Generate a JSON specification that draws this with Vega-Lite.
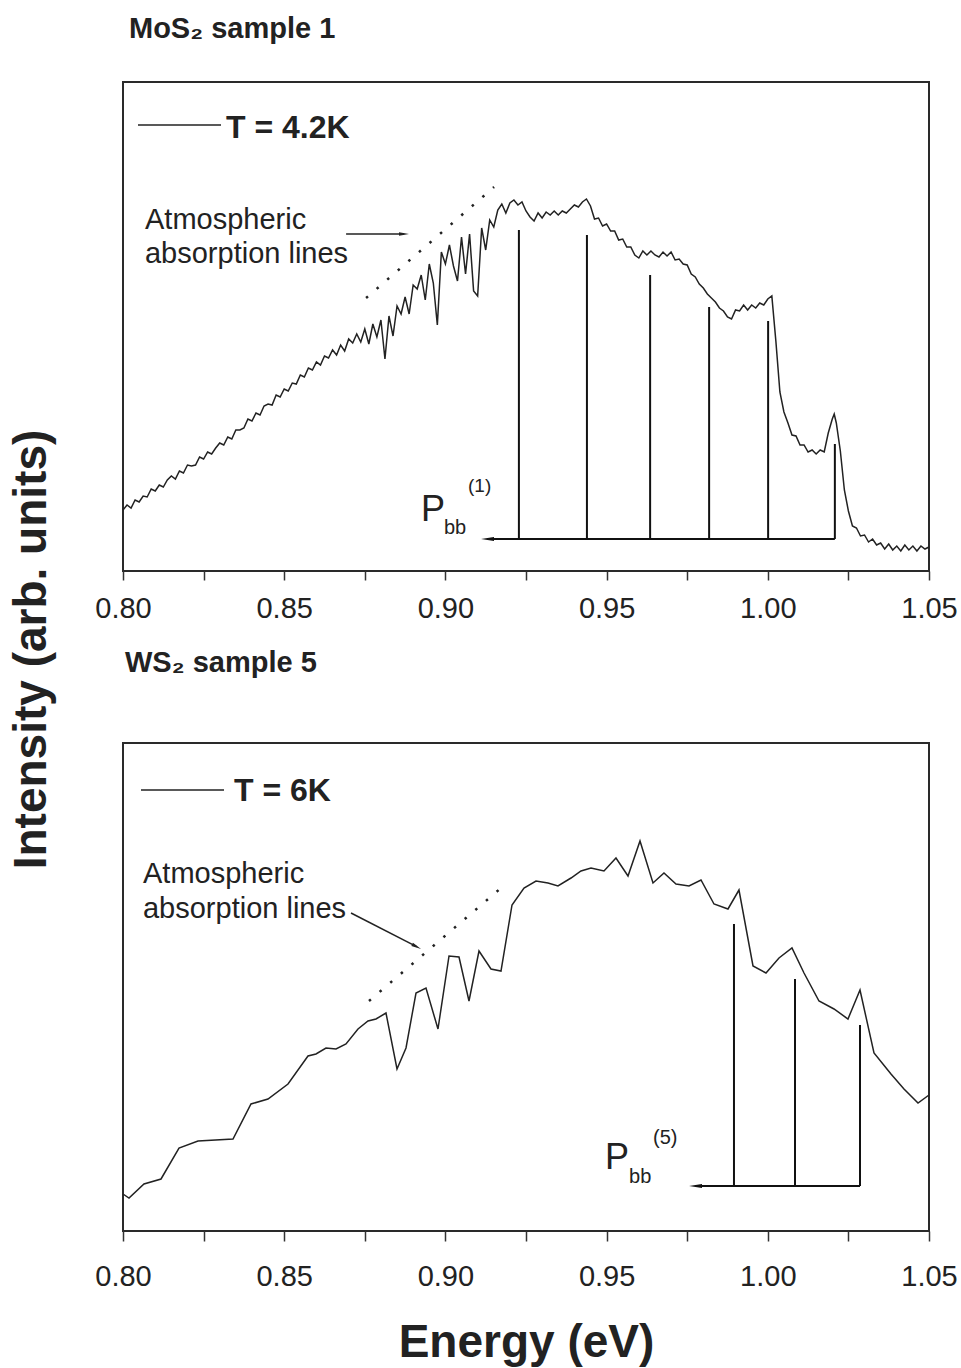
{
  "$schema": "https://vega.github.io/schema/vega-lite/v6.json",
  "background": "white",
  "padding": {"left": 7, "top": 14, "right": 5, "bottom": 5},
  "bounds": "flush",
  "spacing": 172,
  "config": {
    "view": {"stroke": "#2a2a2a", "strokeWidth": 2},
    "font": "Liberation Sans",
    "axis": {"grid": false, "domain": false},
    "title": {"font": "Liberation Sans", "fontWeight": "bold", "fontSize": 29, "anchor": "start", "frame": "group", "color": "#222"}
  },
  "datasets": {
    "mos2": [
      {"e":0.8,"i":61},{"e":0.80125,"i":66},{"e":0.8025,"i":63},{"e":0.80375,"i":71},{"e":0.805,"i":69},{"e":0.80625,"i":75},{"e":0.8075,"i":74},{"e":0.80875,"i":82},{"e":0.81,"i":80},{"e":0.81125,"i":86},
      {"e":0.8125,"i":84},{"e":0.81375,"i":91},{"e":0.815,"i":95},{"e":0.81625,"i":92},{"e":0.8175,"i":100},{"e":0.81875,"i":98},{"e":0.82,"i":106},{"e":0.82125,"i":105},{"e":0.8225,"i":106},{"e":0.82375,"i":114},
      {"e":0.825,"i":112},{"e":0.82625,"i":119},{"e":0.8275,"i":117},{"e":0.82875,"i":123},{"e":0.83,"i":128},{"e":0.83125,"i":126},{"e":0.8325,"i":134},{"e":0.83375,"i":132},{"e":0.835,"i":141},{"e":0.83625,"i":141},
      {"e":0.8375,"i":143},{"e":0.83875,"i":152},{"e":0.84,"i":150},{"e":0.84125,"i":158},{"e":0.8425,"i":156},{"e":0.84375,"i":165},{"e":0.845,"i":167},{"e":0.84625,"i":166},{"e":0.8475,"i":176},{"e":0.84875,"i":174},
      {"e":0.85,"i":182},{"e":0.85125,"i":180},{"e":0.8525,"i":188},{"e":0.85375,"i":187},{"e":0.855,"i":196},{"e":0.85625,"i":194},{"e":0.8575,"i":203},{"e":0.85875,"i":201},{"e":0.86,"i":209},{"e":0.86125,"i":206},
      {"e":0.8625,"i":215},{"e":0.86375,"i":213},{"e":0.865,"i":221},{"e":0.86625,"i":216},{"e":0.8675,"i":226},{"e":0.86875,"i":220},{"e":0.87,"i":232},{"e":0.87125,"i":228},{"e":0.8725,"i":237},{"e":0.87375,"i":229},
      {"e":0.875,"i":242},{"e":0.87625,"i":227},{"e":0.8775,"i":247},{"e":0.87875,"i":234},{"e":0.88,"i":251},{"e":0.88125,"i":212},{"e":0.8825,"i":255},{"e":0.88375,"i":235},{"e":0.885,"i":265},{"e":0.88625,"i":257},
      {"e":0.8875,"i":274},{"e":0.88875,"i":257},{"e":0.89,"i":286},{"e":0.89125,"i":282},{"e":0.8925,"i":296},{"e":0.89375,"i":271},{"e":0.895,"i":307},{"e":0.89625,"i":288},{"e":0.8975,"i":246},{"e":0.89875,"i":319},
      {"e":0.9,"i":307},{"e":0.90125,"i":326},{"e":0.9025,"i":305},{"e":0.90375,"i":290},{"e":0.905,"i":334},{"e":0.90625,"i":297},{"e":0.9075,"i":337},{"e":0.90875,"i":280},{"e":0.91,"i":275},{"e":0.91125,"i":343},
      {"e":0.9125,"i":321},{"e":0.91375,"i":351},{"e":0.915,"i":344},{"e":0.91625,"i":361},{"e":0.9175,"i":367},{"e":0.91875,"i":358},{"e":0.92,"i":368},{"e":0.92125,"i":371},{"e":0.9225,"i":366},{"e":0.92375,"i":369},
      {"e":0.925,"i":360},{"e":0.92625,"i":354},{"e":0.9275,"i":350},{"e":0.92875,"i":358},{"e":0.93,"i":353},{"e":0.93125,"i":359},{"e":0.9325,"i":356},{"e":0.93375,"i":360},{"e":0.935,"i":356},{"e":0.93625,"i":360},
      {"e":0.9375,"i":358},{"e":0.93875,"i":362},{"e":0.94,"i":366},{"e":0.94125,"i":364},{"e":0.9425,"i":369},{"e":0.94375,"i":372},{"e":0.945,"i":365},{"e":0.94625,"i":352},{"e":0.9475,"i":353},{"e":0.94875,"i":345},
      {"e":0.95,"i":347},{"e":0.95125,"i":340},{"e":0.9525,"i":340},{"e":0.95375,"i":331},{"e":0.955,"i":332},{"e":0.95625,"i":324},{"e":0.9575,"i":324},{"e":0.95875,"i":316},{"e":0.96,"i":313},{"e":0.96125,"i":320},
      {"e":0.9625,"i":316},{"e":0.96375,"i":320},{"e":0.965,"i":316},{"e":0.96625,"i":314},{"e":0.9675,"i":319},{"e":0.96875,"i":315},{"e":0.97,"i":319},{"e":0.97125,"i":311},{"e":0.9725,"i":312},{"e":0.97375,"i":307},
      {"e":0.975,"i":306},{"e":0.97625,"i":297},{"e":0.9775,"i":294},{"e":0.97875,"i":287},{"e":0.98,"i":283},{"e":0.98125,"i":277},{"e":0.9825,"i":273},{"e":0.98375,"i":269},{"e":0.985,"i":263},{"e":0.98625,"i":260},
      {"e":0.9875,"i":254},{"e":0.98875,"i":252},{"e":0.99,"i":261},{"e":0.99125,"i":260},{"e":0.9925,"i":266},{"e":0.99375,"i":261},{"e":0.995,"i":266},{"e":0.99625,"i":263},{"e":0.9975,"i":268},{"e":0.99875,"i":266},
      {"e":1.0,"i":272},{"e":1.00125,"i":275},{"e":1.0025,"i":230},{"e":1.00375,"i":179},{"e":1.005,"i":159},{"e":1.00625,"i":148},{"e":1.0075,"i":136},{"e":1.00875,"i":135},{"e":1.01,"i":126},{"e":1.01125,"i":126},
      {"e":1.0125,"i":119},{"e":1.01375,"i":121},{"e":1.015,"i":117},{"e":1.01625,"i":121},{"e":1.0175,"i":119},{"e":1.01875,"i":138},{"e":1.02,"i":152},{"e":1.0206,"i":157},{"e":1.02125,"i":148},{"e":1.0225,"i":120},
      {"e":1.02375,"i":81},{"e":1.025,"i":60},{"e":1.02625,"i":45},{"e":1.0275,"i":43},{"e":1.02875,"i":35},{"e":1.03,"i":36},{"e":1.03125,"i":29},{"e":1.0325,"i":32},{"e":1.03375,"i":26},{"e":1.035,"i":28},
      {"e":1.03625,"i":22},{"e":1.0375,"i":27},{"e":1.03875,"i":21},{"e":1.04,"i":25},{"e":1.04125,"i":20},{"e":1.0425,"i":26},{"e":1.04375,"i":21},{"e":1.045,"i":25},{"e":1.04625,"i":20},{"e":1.0475,"i":25},
      {"e":1.04875,"i":22},{"e":1.05,"i":24}
    ],
    "ws2": [
      {"e":0.8,"i":37},{"e":0.80186,"i":33},{"e":0.80651,"i":47},{"e":0.81179,"i":52},{"e":0.81737,"i":83},{"e":0.82326,"i":90},{"e":0.83412,"i":92},{"e":0.8397,"i":127},{"e":0.84497,"i":132},{"e":0.85118,"i":147},
      {"e":0.85738,"i":175},{"e":0.85986,"i":177},{"e":0.86296,"i":183},{"e":0.86607,"i":182},{"e":0.86917,"i":187},{"e":0.87289,"i":202},{"e":0.87599,"i":210},{"e":0.87847,"i":212},{"e":0.88157,"i":218},{"e":0.88499,"i":162},
      {"e":0.88778,"i":183},{"e":0.89088,"i":238},{"e":0.89398,"i":243},{"e":0.8977,"i":202},{"e":0.90112,"i":275},{"e":0.90422,"i":274},{"e":0.90732,"i":230},{"e":0.91042,"i":280},{"e":0.91414,"i":262},{"e":0.91724,"i":260},
      {"e":0.92066,"i":326},{"e":0.92438,"i":343},{"e":0.9281,"i":350},{"e":0.93182,"i":348},{"e":0.93492,"i":345},{"e":0.93896,"i":353},{"e":0.94206,"i":360},{"e":0.94516,"i":363},{"e":0.94919,"i":360},{"e":0.95291,"i":373},
      {"e":0.95664,"i":355},{"e":0.96036,"i":390},{"e":0.96439,"i":348},{"e":0.9678,"i":358},{"e":0.97152,"i":347},{"e":0.97556,"i":345},{"e":0.97928,"i":351},{"e":0.98331,"i":327},{"e":0.98765,"i":322},{"e":0.99106,"i":341},
      {"e":0.99541,"i":265},{"e":0.99944,"i":258},{"e":1.00347,"i":273},{"e":1.0075,"i":283},{"e":1.01123,"i":258},{"e":1.01588,"i":230},{"e":1.02053,"i":222},{"e":1.02487,"i":212},{"e":1.0286,"i":241},{"e":1.03294,"i":178},
      {"e":1.03821,"i":157},{"e":1.04224,"i":142},{"e":1.04659,"i":128},{"e":1.05,"i":136}
    ],
    "pbb1": [
      {"e":0.9228,"top":341},{"e":0.9439,"top":336},{"e":0.9635,"top":296},{"e":0.9818,"top":264},{"e":1.0001,"top":250},{"e":1.0208,"top":127}
    ],
    "pbb5": [
      {"e":0.98951,"top":307},{"e":1.00843,"top":252},{"e":1.0286,"top":206}
    ]
  },
  "vconcat": [
    {
      "title": {"text": "MoS₂ sample 1", "offset": 38, "dx": 6},
      "width": 806,
      "height": 489,
      "layer": [
        {
          "data": {"name": "mos2"},
          "mark": {"type": "line", "stroke": "#222", "strokeWidth": 1.5},
          "encoding": {
            "x": {"field": "e", "type": "quantitative", "scale": {"domain": [0.8, 1.05], "nice": false, "zero": false},
              "axis": {"title": null, "values": [0.8,0.825,0.85,0.875,0.9,0.925,0.95,0.975,1.0,1.025,1.05],
                "labelExpr": "abs(datum.value*20 - round(datum.value*20)) < 0.01 ? format(datum.value, '.2f') : ''",
                "labelFont": "Liberation Sans", "labelFontSize": 29, "labelColor": "#222", "labelPadding": 14, "labelFlush": false, "labelOverlap": false,
                "tickSize": 9, "tickWidth": 1.5, "tickColor": "#333"}},
            "y": {"field": "i", "type": "quantitative", "scale": {"domain": [0, 489], "nice": false, "zero": false},
              "axis": {"title": "Intensity (arb. units)", "labels": false, "ticks": false, "titleX": -92, "titleY": 567,
                "titleFontSize": 46, "titleFontWeight": "bold", "titleFont": "Liberation Sans", "titleColor": "#222", "titleAngle": -90, "titleBaseline": "middle", "titleAlign": "center"}}
          }
        },
        {
          "data": {"name": "pbb1"},
          "mark": {"type": "rule", "stroke": "#111", "strokeWidth": 2},
          "encoding": {"x": {"field": "e", "type": "quantitative"}, "y": {"field": "top", "type": "quantitative"}, "y2": {"datum": 32}}
        },
        {
          "data": {"values": [{}]},
          "mark": {"type": "rule", "stroke": "#111", "strokeWidth": 2},
          "encoding": {"x": {"datum": 0.91306}, "x2": {"datum": 1.0208}, "y": {"datum": 32}}
        },
        {
          "data": {"values": [{}]},
          "mark": {"type": "point", "shape": "M-1,0L1,-0.3L1,0.3Z", "filled": true, "size": 169, "color": "#111", "opacity": 1},
          "encoding": {"x": {"datum": 0.91306}, "y": {"datum": 32}}
        },
        {
          "data": {"values": [{}]},
          "mark": {"type": "rule", "stroke": "#222", "strokeWidth": 2.5, "strokeDash": [2.5, 11.5]},
          "encoding": {"x": {"datum": 0.8754}, "y": {"datum": 273}, "x2": {"datum": 0.9151}, "y2": {"datum": 384}}
        },
        {
          "data": {"values": [{}]},
          "mark": {"type": "rule", "stroke": "#222", "strokeWidth": 1.3},
          "encoding": {"x": {"datum": 0.8692}, "x2": {"datum": 0.8872}, "y": {"datum": 337}}
        },
        {
          "data": {"values": [{}]},
          "mark": {"type": "point", "shape": "M1,0L-1,-0.35L-1,0.35Z", "filled": true, "size": 100, "color": "#222", "opacity": 1},
          "encoding": {"x": {"datum": 0.88716}, "y": {"datum": 337}}
        },
        {
          "data": {"values": [{}]},
          "mark": {"type": "text", "text": ["Atmospheric", "absorption lines"], "align": "left", "baseline": "alphabetic", "fontSize": 29, "lineHeight": 34, "font": "Liberation Sans", "color": "#222"},
          "encoding": {"x": {"datum": 0.80682}, "y": {"datum": 342}}
        },
        {
          "data": {"values": [{}]},
          "mark": {"type": "rule", "stroke": "#222", "strokeWidth": 1.3},
          "encoding": {"x": {"datum": 0.80465}, "x2": {"datum": 0.8304}, "y": {"datum": 446}}
        },
        {
          "data": {"values": [{}]},
          "mark": {"type": "text", "text": "T = 4.2K", "align": "left", "baseline": "alphabetic", "fontSize": 32, "fontWeight": "bold", "font": "Liberation Sans", "color": "#222"},
          "encoding": {"x": {"datum": 0.83195}, "y": {"datum": 433}}
        },
        {
          "data": {"values": [{}]},
          "mark": {"type": "text", "text": "P", "align": "left", "baseline": "alphabetic", "fontSize": 36, "font": "Liberation Sans", "color": "#222"},
          "encoding": {"x": {"datum": 0.89243}, "y": {"datum": 50}}
        },
        {
          "data": {"values": [{}]},
          "mark": {"type": "text", "text": "bb", "align": "left", "baseline": "alphabetic", "fontSize": 20, "font": "Liberation Sans", "color": "#222"},
          "encoding": {"x": {"datum": 0.89956}, "y": {"datum": 37}}
        },
        {
          "data": {"values": [{}]},
          "mark": {"type": "text", "text": "(1)", "align": "left", "baseline": "alphabetic", "fontSize": 19, "font": "Liberation Sans", "color": "#222"},
          "encoding": {"x": {"datum": 0.90701}, "y": {"datum": 79}}
        }
      ]
    },
    {
      "title": {"text": "WS₂ sample 5", "offset": 65, "dx": 2},
      "width": 806,
      "height": 488,
      "layer": [
        {
          "data": {"name": "ws2"},
          "mark": {"type": "line", "stroke": "#222", "strokeWidth": 1.5},
          "encoding": {
            "x": {"field": "e", "type": "quantitative", "scale": {"domain": [0.8, 1.05], "nice": false, "zero": false},
              "axis": {"title": "Energy (eV)", "values": [0.8,0.825,0.85,0.875,0.9,0.925,0.95,0.975,1.0,1.025,1.05],
                "labelExpr": "abs(datum.value*20 - round(datum.value*20)) < 0.01 ? format(datum.value, '.2f') : ''",
                "labelFont": "Liberation Sans", "labelFontSize": 29, "labelColor": "#222", "labelPadding": 21, "labelFlush": false, "labelOverlap": false,
                "tickSize": 10, "tickWidth": 1.5, "tickColor": "#333",
                "titleFont": "Liberation Sans", "titleFontSize": 46, "titleFontWeight": "bold", "titleColor": "#222", "titlePadding": 29}},
            "y": {"field": "i", "type": "quantitative", "scale": {"domain": [0, 488], "nice": false, "zero": false},
              "axis": {"title": null, "labels": false, "ticks": false}}
          }
        },
        {
          "data": {"name": "pbb5"},
          "mark": {"type": "rule", "stroke": "#111", "strokeWidth": 2},
          "encoding": {"x": {"field": "e", "type": "quantitative"}, "y": {"field": "top", "type": "quantitative"}, "y2": {"datum": 45}}
        },
        {
          "data": {"values": [{}]},
          "mark": {"type": "rule", "stroke": "#111", "strokeWidth": 2},
          "encoding": {"x": {"datum": 0.97757}, "x2": {"datum": 1.0286}, "y": {"datum": 45}}
        },
        {
          "data": {"values": [{}]},
          "mark": {"type": "point", "shape": "M-1,0L1,-0.3L1,0.3Z", "filled": true, "size": 169, "color": "#111", "opacity": 1},
          "encoding": {"x": {"datum": 0.97757}, "y": {"datum": 45}}
        },
        {
          "data": {"values": [{}]},
          "mark": {"type": "rule", "stroke": "#222", "strokeWidth": 2.5, "strokeDash": [2.5, 11.5]},
          "encoding": {"x": {"datum": 0.8763}, "y": {"datum": 230}, "x2": {"datum": 0.91724}, "y2": {"datum": 343}}
        },
        {
          "data": {"values": [{}]},
          "mark": {"type": "rule", "stroke": "#222", "strokeWidth": 1.5},
          "encoding": {"x": {"datum": 0.87072}, "y": {"datum": 318}, "x2": {"datum": 0.89107}, "y2": {"datum": 284.3}}
        },
        {
          "data": {"values": [{}]},
          "mark": {"type": "point", "shape": "M1,0L-1,-0.35L-1,0.35Z", "filled": true, "size": 100, "angle": 27, "color": "#222", "opacity": 1},
          "encoding": {"x": {"datum": 0.89107}, "y": {"datum": 284.3}}
        },
        {
          "data": {"values": [{}]},
          "mark": {"type": "text", "text": ["Atmospheric", "absorption lines"], "align": "left", "baseline": "alphabetic", "fontSize": 29, "lineHeight": 35, "font": "Liberation Sans", "color": "#222"},
          "encoding": {"x": {"datum": 0.8062}, "y": {"datum": 348}}
        },
        {
          "data": {"values": [{}]},
          "mark": {"type": "rule", "stroke": "#222", "strokeWidth": 1.3},
          "encoding": {"x": {"datum": 0.80558}, "x2": {"datum": 0.83133}, "y": {"datum": 441}}
        },
        {
          "data": {"values": [{}]},
          "mark": {"type": "text", "text": "T = 6K", "align": "left", "baseline": "alphabetic", "fontSize": 32, "fontWeight": "bold", "font": "Liberation Sans", "color": "#222"},
          "encoding": {"x": {"datum": 0.83443}, "y": {"datum": 430}}
        },
        {
          "data": {"values": [{}]},
          "mark": {"type": "text", "text": "P", "align": "left", "baseline": "alphabetic", "fontSize": 36, "font": "Liberation Sans", "color": "#222"},
          "encoding": {"x": {"datum": 0.9495}, "y": {"datum": 62}}
        },
        {
          "data": {"values": [{}]},
          "mark": {"type": "text", "text": "bb", "align": "left", "baseline": "alphabetic", "fontSize": 20, "font": "Liberation Sans", "color": "#222"},
          "encoding": {"x": {"datum": 0.95695}, "y": {"datum": 48}}
        },
        {
          "data": {"values": [{}]},
          "mark": {"type": "text", "text": "(5)", "align": "left", "baseline": "alphabetic", "fontSize": 20, "font": "Liberation Sans", "color": "#222"},
          "encoding": {"x": {"datum": 0.96439}, "y": {"datum": 87}}
        }
      ]
    }
  ]
}
